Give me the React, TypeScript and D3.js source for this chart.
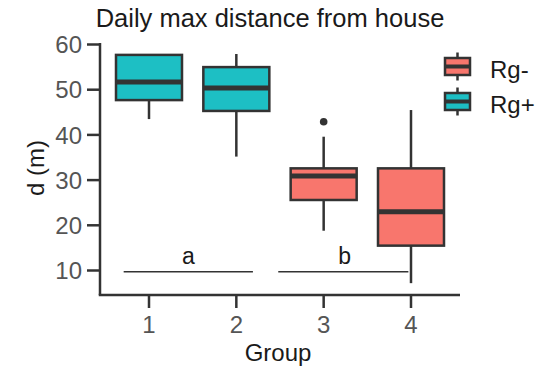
import React from "react";
import * as d3 from "d3";

// box statistics
const groups = [1, 2, 3, 4];
const series = ["Rg+", "Rg+", "Rg-", "Rg-"];
const lowerWhisker = [43.5, 35.2, 18.8, 7.2];
const q1 = [47.7, 45.3, 25.6, 15.5];
const median = [51.7, 50.4, 30.9, 23.0];
const q3 = [57.7, 55.0, 32.6, 32.6];
const upperWhisker = [57.7, 57.9, 39.6, 45.5];
const outliers = [{ group: 3, value: 42.9 }];

const yTicks = [10, 20, 30, 40, 50, 60];
const legendItems = ["Rg-", "Rg+"];
const colors: Record<string, string> = { "Rg-": "#F8766D", "Rg+": "#1DBFC4" };

// significance letters
const letters = [
  { label: "a", from: 0.71, to: 2.19, at: 1.45, y: 9.7 },
  { label: "b", from: 2.48, to: 3.97, at: 3.24, y: 9.7 },
];

const W = 543;
const H = 369;
const FONT = "'Liberation Sans', Arial, Helvetica, sans-serif";
const INK = "#333333";

export default function App() {
  const x = d3.scaleLinear().domain([1, 4]).range([149, 411]);
  const y = d3.scaleLinear().domain([10, 60]).range([270.5, 44.5]);
  const boxW = 66;
  const panelLeft = 100;
  const panelRight = 460;
  const panelBottom = 295;
  const panelTop = 43;

  return (
    <svg
      width={W}
      height={H}
      style={{ position: "absolute", left: 0, top: 0, background: "#fff" }}
      fontFamily={FONT}
    >
      <text x={270} y={27} textAnchor="middle" fontSize={25.5} fill="#1a1a1a">
        Daily max distance from house
      </text>

      {/* boxes */}
      {groups.map((g, i) => {
        const cx = x(g);
        return (
          <g key={g}>
            <line x1={cx} x2={cx} y1={y(upperWhisker[i])} y2={y(q3[i])} stroke={INK} strokeWidth={2.5} />
            <line x1={cx} x2={cx} y1={y(q1[i])} y2={y(lowerWhisker[i])} stroke={INK} strokeWidth={2.5} />
            <rect
              x={cx - boxW / 2}
              y={y(q3[i])}
              width={boxW}
              height={y(q1[i]) - y(q3[i])}
              fill={colors[series[i]]}
              stroke={INK}
              strokeWidth={2.5}
            />
            <line
              x1={cx - boxW / 2}
              x2={cx + boxW / 2}
              y1={y(median[i])}
              y2={y(median[i])}
              stroke={INK}
              strokeWidth={5}
            />
          </g>
        );
      })}
      {outliers.map((o, i) => (
        <circle key={i} cx={x(o.group)} cy={y(o.value)} r={3.8} fill={INK} />
      ))}

      {/* letters */}
      {letters.map((l) => (
        <g key={l.label}>
          <line x1={x(l.from)} x2={x(l.to)} y1={y(l.y)} y2={y(l.y)} stroke={INK} strokeWidth={1.5} />
          <text x={x(l.at)} y={264} textAnchor="middle" fontSize={23} fill="#1a1a1a">
            {l.label}
          </text>
        </g>
      ))}

      {/* y axis */}
      <line x1={panelLeft} x2={panelLeft} y1={panelTop} y2={panelBottom} stroke={INK} strokeWidth={2.5} />
      {yTicks.map((t) => (
        <g key={t}>
          <line x1={panelLeft - 13} x2={panelLeft} y1={y(t)} y2={y(t)} stroke={INK} strokeWidth={2.5} />
          <text x={82} y={y(t)} dy="0.36em" textAnchor="end" fontSize={24} fill="#555">
            {t}
          </text>
        </g>
      ))}
      <text
        transform={`translate(44,168) rotate(-90)`}
        textAnchor="middle"
        fontSize={24}
        fill="#1a1a1a"
      >
        d (m)
      </text>

      {/* x axis */}
      <line x1={panelLeft - 1.25} x2={panelRight} y1={panelBottom} y2={panelBottom} stroke={INK} strokeWidth={2.5} />
      {groups.map((g) => (
        <g key={g}>
          <line x1={x(g)} x2={x(g)} y1={panelBottom} y2={panelBottom + 13} stroke={INK} strokeWidth={2.5} />
          <text x={x(g)} y={333} textAnchor="middle" fontSize={24} fill="#555">
            {g}
          </text>
        </g>
      ))}
      <text x={278} y={361} textAnchor="middle" fontSize={24} fill="#1a1a1a">
        Group
      </text>

      {/* legend */}
      {legendItems.map((s, i) => {
        const cy = 66.5 + i * 35;
        const kx = 457.5;
        return (
          <g key={s}>
            <line x1={kx} x2={kx} y1={cy - 14} y2={cy + 14} stroke={INK} strokeWidth={2.5} />
            <rect x={kx - 12.5} y={cy - 8.5} width={25} height={17} fill={colors[s]} stroke={INK} strokeWidth={2.5} />
            <line x1={kx - 12.5} x2={kx + 12.5} y1={cy} y2={cy} stroke={INK} strokeWidth={4} />
            <text x={490} y={cy + 11} fontSize={24} fill="#1a1a1a">
              {s}
            </text>
          </g>
        );
      })}
    </svg>
  );
}
